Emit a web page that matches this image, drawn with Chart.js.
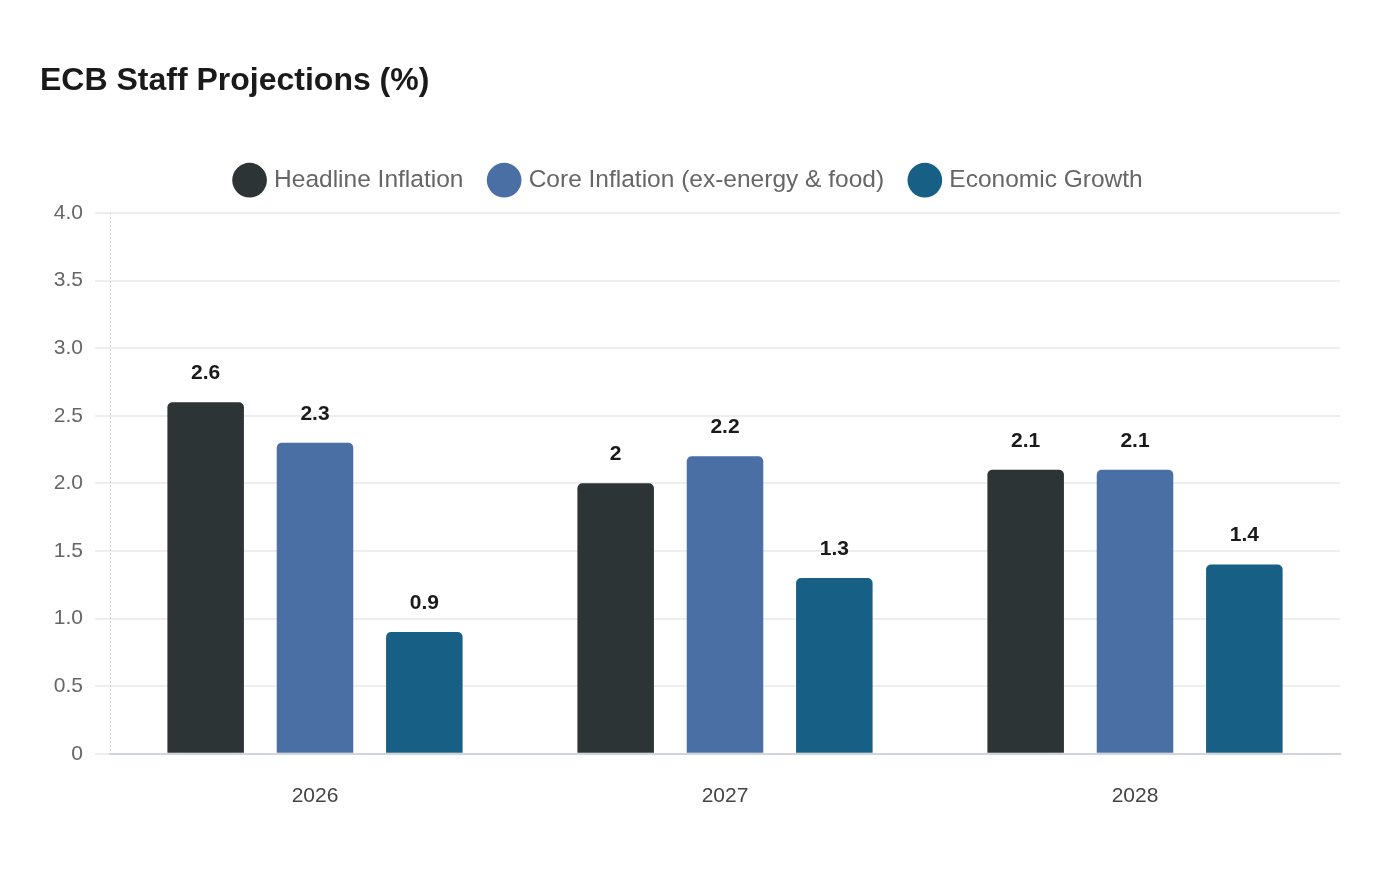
<!DOCTYPE html>
<html>
<head>
<meta charset="utf-8">
<script src="https://cdn.jsdelivr.net/npm/chart.js@4.4.1/dist/chart.umd.min.js"></script>
<style>
  html, body { margin: 0; padding: 0; background: #ffffff; }
  #wrap { width: 1400px; height: 880px; position: relative; }
</style>
</head>
<body>
<div id="wrap"><canvas id="c"></canvas></div>
<script>
const categories = ['2026', '2027', '2028'];
const headlineInflation = [2.6, 2.0, 2.1];
const coreInflation = [2.3, 2.2, 2.1];
const economicGrowth = [0.9, 1.3, 1.4];
const seriesNames = ['Headline Inflation', 'Core Inflation (ex-energy & food)', 'Economic Growth'];
const yTicks = [0, 0.5, 1.0, 1.5, 2.0, 2.5, 3.0, 3.5, 4.0];

const colors = ['#2d3436', '#4a6fa5', '#185f86'];

Chart.defaults.font.family = "'Liberation Sans', Arial, sans-serif";

const legendGap = {
  id: 'legendGap',
  beforeInit(chart) {
    const lg = chart.legend;
    if (!lg) return;
    const orig = lg.fit;
    lg.fit = function () { orig.call(this); this.height += 10.5; };
  }
};

const yAxisLine = {
  id: 'yAxisLine',
  beforeDatasetsDraw(chart) {
    const s = chart.scales.y;
    const ctx = chart.ctx;
    ctx.save();
    ctx.strokeStyle = '#d4d4d4';
    ctx.lineWidth = 1;
    ctx.setLineDash([2, 2]);
    ctx.beginPath();
    ctx.moveTo(s.right + 0.5, s.top);
    ctx.lineTo(s.right + 0.5, s.bottom);
    ctx.stroke();
    ctx.restore();
  }
};

const valueLabels = {
  id: 'valueLabels',
  afterDatasetsDraw(chart) {
    const ctx = chart.ctx;
    ctx.save();
    ctx.font = "bold 21px 'Liberation Sans', Arial, sans-serif";
    ctx.fillStyle = '#1a1a1a';
    ctx.textAlign = 'center';
    ctx.textBaseline = 'alphabetic';
    chart.data.datasets.forEach((ds, i) => {
      const meta = chart.getDatasetMeta(i);
      meta.data.forEach((bar, j) => {
        ctx.fillText(String(ds.data[j]), bar.x, bar.y - 23);
      });
    });
    ctx.restore();
  }
};

new Chart(document.getElementById('c'), {
  type: 'bar',
  data: {
    labels: categories,
    datasets: [
      { label: seriesNames[0], data: headlineInflation, backgroundColor: colors[0] },
      { label: seriesNames[1], data: coreInflation, backgroundColor: colors[1] },
      { label: seriesNames[2], data: economicGrowth, backgroundColor: colors[2] }
    ]
  },
  options: {
    responsive: true,
    maintainAspectRatio: false,
    animation: false,
    devicePixelRatio: 1,
    layout: { padding: { left: 40, right: 60, top: 40, bottom: 56 } },
    datasets: {
      bar: { categoryPercentage: 0.8, barPercentage: 0.7, borderRadius: 5, borderSkipped: 'bottom' }
    },
    plugins: {
      title: {
        display: true,
        text: 'ECB Staff Projections (%)',
        align: 'start',
        color: '#1a1a1a',
        font: { size: 32, weight: 'bold' },
        padding: { top: 22, bottom: 39 }
      },
      legend: {
        display: true,
        labels: {
          usePointStyle: true,
          pointStyle: 'circle',
          color: '#666666',
          font: { size: 24.5 },
          padding: 28.5
        }
      },
      tooltip: { enabled: false }
    },
    scales: {
      x: {
        grid: { display: false, drawTicks: true, tickLength: 15 },
        border: { display: true, color: '#d1d5db', width: 2 },
        ticks: { color: '#444444', font: { size: 21 }, padding: 15 }
      },
      y: {
        min: 0,
        max: 4,
        afterBuildTicks(scale) { scale.ticks = yTicks.map(v => ({ value: v })); },
        afterFit(scale) { scale.width = 70; },
        grid: { color: '#eeeeee', lineWidth: 2, tickLength: 15 },
        border: { display: false },
        ticks: {
          color: '#666666',
          font: { size: 21 },
          padding: 12,
          callback: v => (v === 0 ? '0' : v.toFixed(1))
        }
      }
    }
  },
  plugins: [legendGap, yAxisLine, valueLabels]
});
</script>
</body>
</html>
